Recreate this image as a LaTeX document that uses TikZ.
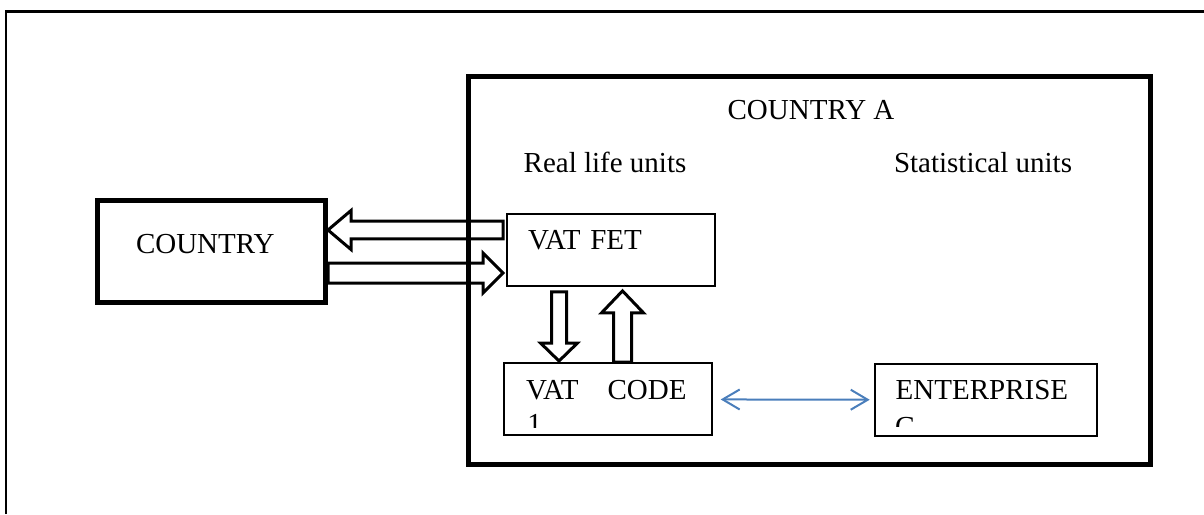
\documentclass[tikz,border=0pt]{standalone}
\usepackage{fontspec}
\setmainfont{Liberation Serif}
\newfontfamily\diagfont{Liberation Serif}
\usepackage{xcolor}
\usetikzlibrary{calc,arrows.meta,positioning}

\definecolor{linkblue}{HTML}{4A7EBB}

% hollow block arrow: tail, tip, shaft half width, head half width, head length
\newcommand{\fatarrow}[5]{%
  \coordinate (hb) at ($(#2)!#5!(#1)$);
  \draw[fat] ($(#1)!#3!90:(#2)$) -- ($(hb)!#3!90:(#2)$) -- ($(hb)!#4!90:(#2)$) -- (#2)
    -- ($(hb)!#4!-90:(#2)$) -- ($(hb)!#3!-90:(#2)$) -- ($(#1)!#3!-90:(#2)$) -- cycle;
}

\begin{document}
\begin{tikzpicture}[
    x=0.5pt, y=-0.5pt,
    every node/.style={font=\diagfont\fontsize{14.5pt}{17pt}\selectfont},
    heavy/.style={draw, line width=2.5pt, anchor=north west},
    unit/.style={draw, line width=1pt, anchor=north west, align=left, inner ysep=0pt,
                 text height=18pt, text depth=18.2pt},
    fat/.style={draw, line width=1.5pt, line join=miter},
    link/.style={draw=linkblue, line width=1pt, shorten <=4pt, shorten >=2pt,
                 {Straight Barb[length=8.5pt,width=10pt]}-{Straight Barb[length=8.5pt,width=10pt]}}
]
    \useasboundingbox (0,0) rectangle (1204,514);

    % page frame
    \draw[line width=1.25pt] (6,514) -- (6,11.5) -- (1204,11.5);

    % country A and its units
    \node[heavy, inner sep=0pt, minimum width=340.75pt, minimum height=194pt] (ctrya) at (466,74) {};
    \node[anchor=base] (title) at (811,119) {COUNTRY A};
    \node[anchor=base] (real) at (605,172) {Real life units};
    \node[anchor=base] (stat) at (983,172) {Statistical units};

    \node[heavy, align=left, inner ysep=0pt, inner xsep=19.5pt, text width=75.25pt,
          text height=26.5pt, text depth=24.5pt] (country) at (94.5,198) {COUNTRY};

    \node[unit, inner xsep=10.5pt, text width=82.85pt] (fet) at (506,212.5) {VAT FET};
    \node[unit, inner xsep=11pt, text width=81.85pt] (code) at (503,362) {VAT\quad CODE};
    \node[unit, inner xsep=10.5pt, text width=89.9pt] (ent) at (873.7,362.8) {ENTERPRISE};

    % wrapped second lines, cut by the boxes
    \begin{scope}
        \clip (code.north west) rectangle ($(code.south east)+(0,-9)$);
        \node[anchor=base west, inner sep=0pt] (codeone) at ($(code.north west)+(24,71)$) {1};
    \end{scope}
    \begin{scope}
        \clip (ent.north west) rectangle ($(ent.south east)+(0,-11)$);
        \node[anchor=base west, inner sep=0pt] (entg) at ($(ent.north west)+(21,74)$) {G};
    \end{scope}

    % block arrows
    \coordinate (rowout) at (0,230);
    \coordinate (rowin) at (0,273);
    \coordinate (coldown) at (559,0);
    \coordinate (colup) at (622.5,0);

    \coordinate (outtail) at ($(fet.west |- rowout)+(-3,0)$);
    \coordinate (outtip) at (country.east |- rowout);
    \coordinate (intail) at (country.east |- rowin);
    \coordinate (intip) at ($(fet.west |- rowin)+(-3,0)$);
    \coordinate (downtail) at ($(coldown |- fet.south)+(0,5)$);
    \coordinate (downtip) at ($(coldown |- code.north)+(0,-1)$);
    \coordinate (uptail) at (colup |- code.north);
    \coordinate (uptip) at ($(colup |- fet.south)+(0,4)$);

    \fatarrow{outtail}{outtip}{4.4pt}{9.75pt}{11.5pt}
    \fatarrow{intail}{intip}{5pt}{10pt}{10pt}
    \fatarrow{downtail}{downtip}{3.75pt}{9.25pt}{9pt}
    \fatarrow{uptail}{uptip}{4.5pt}{10.5pt}{11pt}

    \draw[link] (code) -- (ent);
\end{tikzpicture}
\end{document}
